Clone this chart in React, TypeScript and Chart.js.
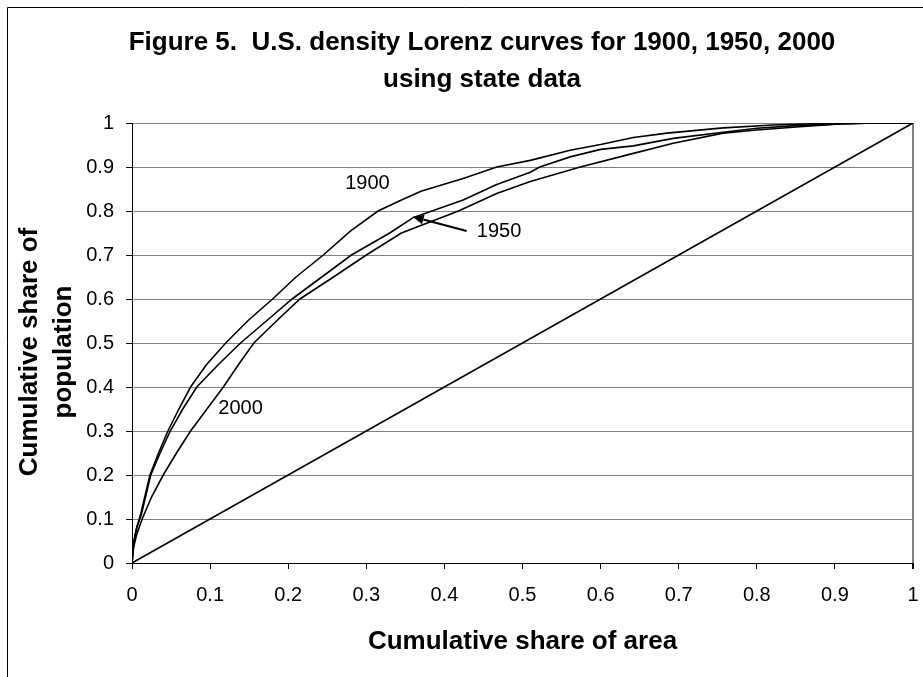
import React, { useEffect, useRef } from 'react';
import { Chart, registerables } from 'chart.js';

Chart.register(...registerables);

// ---- text ----
const titleLines = ['Figure 5.  U.S. density Lorenz curves for 1900, 1950, 2000', 'using state data'];
const xAxisTitle = 'Cumulative share of area';
const yAxisTitle = ['Cumulative share of', 'population'];
const xTickLabels = ['0', '0.1', '0.2', '0.3', '0.4', '0.5', '0.6', '0.7', '0.8', '0.9', '1'];
const yTickLabels = ['0', '0.1', '0.2', '0.3', '0.4', '0.5', '0.6', '0.7', '0.8', '0.9', '1'];

// ---- data: cumulative share of area (x) vs cumulative share of population (y) ----
const area1900 = [0, 0.002, 0.006, 0.011, 0.017, 0.023, 0.034, 0.046, 0.06, 0.075, 0.095, 0.12, 0.148, 0.18, 0.21, 0.245, 0.28, 0.315, 0.345, 0.37, 0.424, 0.467, 0.51, 0.561, 0.6, 0.642, 0.685, 0.757, 0.821, 0.885, 0.95, 1];
const pop1900 = [0, 0.045, 0.08, 0.11, 0.155, 0.2, 0.25, 0.3, 0.35, 0.4, 0.45, 0.5, 0.55, 0.6, 0.65, 0.7, 0.755, 0.8, 0.825, 0.845, 0.874, 0.9, 0.915, 0.938, 0.951, 0.967, 0.977, 0.989, 0.9955, 0.999, 1, 1];

const area1950 = [0, 0.002, 0.006, 0.012, 0.018, 0.024, 0.036, 0.049, 0.065, 0.083, 0.11, 0.139, 0.172, 0.205, 0.243, 0.281, 0.33, 0.36, 0.384, 0.424, 0.467, 0.51, 0.522, 0.561, 0.6, 0.642, 0.693, 0.757, 0.8, 0.851, 0.906, 0.95, 1];
const pop1950 = [0, 0.045, 0.08, 0.11, 0.155, 0.2, 0.25, 0.3, 0.35, 0.4, 0.45, 0.5, 0.55, 0.6, 0.65, 0.7, 0.75, 0.785, 0.8, 0.825, 0.86, 0.888, 0.9, 0.923, 0.94, 0.948, 0.965, 0.979, 0.988, 0.994, 0.998, 1, 1];

const area2000 = [0, 0.002, 0.006, 0.013, 0.025, 0.04, 0.057, 0.075, 0.096, 0.117, 0.136, 0.156, 0.185, 0.215, 0.258, 0.3, 0.345, 0.418, 0.467, 0.51, 0.574, 0.642, 0.693, 0.757, 0.8, 0.855, 0.906, 0.95, 1];
const pop2000 = [0, 0.035, 0.065, 0.1, 0.15, 0.2, 0.25, 0.3, 0.35, 0.4, 0.45, 0.5, 0.55, 0.6, 0.65, 0.7, 0.75, 0.8, 0.84, 0.867, 0.9, 0.931, 0.954, 0.977, 0.984, 0.9916, 0.998, 1, 1];

const equalityArea = [0, 1];
const equalityPop = [0, 1];

// ---- annotations (data coordinates) ----
const curveLabels = ['1900', '1950', '2000'];
const curveLabelArea = [0.3015, 0.47, 0.139];
const curveLabelPop = [0.8625, 0.753, 0.352];
const arrowArea = [0.4285, 0.3594];
const arrowPop = [0.7545, 0.787];

const FONT = 'Arial, "Liberation Sans", sans-serif';

const framePlugin = {
  id: 'frame',
  beforeDraw(chart: any) {
    const ctx = chart.ctx;
    ctx.save();
    ctx.fillStyle = '#fff';
    ctx.fillRect(0, 0, chart.width, chart.height);
    ctx.strokeStyle = '#000';
    ctx.lineWidth = 1;
    ctx.beginPath();
    ctx.moveTo(7.5, chart.height + 2);
    ctx.lineTo(7.5, 7.5);
    ctx.lineTo(chart.width + 2, 7.5);
    ctx.stroke();
    ctx.restore();
  },
};

const textPlugin = {
  id: 'texts',
  afterDraw(chart: any) {
    const ctx = chart.ctx;
    const xs = chart.scales.x;
    const ys = chart.scales.y;
    ctx.save();
    ctx.fillStyle = '#000';
    ctx.textAlign = 'center';
    ctx.textBaseline = 'middle';

    // chart title
    ctx.font = `bold 26px ${FONT}`;
    titleLines.forEach((t, i) => ctx.fillText(t, 482, 43 + i * 37));

    // y axis title (rotated, two lines)
    ctx.save();
    ctx.translate(30, 352);
    ctx.rotate(-Math.PI / 2);
    yAxisTitle.forEach((t, i) => ctx.fillText(t, 0, i * 34));
    ctx.restore();

    // curve labels
    ctx.font = `20px ${FONT}`;
    curveLabels.forEach((t, i) => {
      ctx.fillText(t, xs.getPixelForValue(curveLabelArea[i]), ys.getPixelForValue(curveLabelPop[i]));
    });

    // arrow to the 1950 curve
    const x0 = xs.getPixelForValue(arrowArea[0]);
    const y0 = ys.getPixelForValue(arrowPop[0]);
    const x1 = xs.getPixelForValue(arrowArea[1]);
    const y1 = ys.getPixelForValue(arrowPop[1]);
    const ang = Math.atan2(y1 - y0, x1 - x0);
    const hl = 11;
    const hw = 5;
    const bx = x1 - hl * Math.cos(ang);
    const by = y1 - hl * Math.sin(ang);
    ctx.strokeStyle = '#000';
    ctx.lineWidth = 2;
    ctx.beginPath();
    ctx.moveTo(x0, y0);
    ctx.lineTo(bx, by);
    ctx.stroke();
    ctx.beginPath();
    ctx.moveTo(x1, y1);
    ctx.lineTo(bx + hw * Math.sin(ang), by - hw * Math.cos(ang));
    ctx.lineTo(bx - hw * Math.sin(ang), by + hw * Math.cos(ang));
    ctx.closePath();
    ctx.fill();
    ctx.restore();
  },
};

function toPoints(xs: number[], ys: number[]) {
  return xs.map((x, i) => ({ x, y: ys[i] }));
}

function lineSet(label: string, xs: number[], ys: number[]) {
  return {
    label,
    data: toPoints(xs, ys),
    showLine: true,
    borderColor: '#000',
    backgroundColor: '#000',
    borderWidth: 1.6,
    pointRadius: 0,
    pointHoverRadius: 0,
    fill: false,
    tension: 0,
  };
}

export default function App() {
  const ref = useRef<HTMLCanvasElement>(null);

  useEffect(() => {
    const canvas = ref.current;
    if (!canvas) return;
    const chart = new Chart(canvas, {
      type: 'scatter',
      data: {
        datasets: [
          lineSet('1900', area1900, pop1900),
          lineSet('1950', area1950, pop1950),
          lineSet('2000', area2000, pop2000),
          lineSet('Equality', equalityArea, equalityPop),
        ],
      },
      options: {
        responsive: false,
        animation: false,
        events: [],
        layout: { padding: { left: 0, top: 123, right: 0, bottom: 0 } },
        plugins: {
          legend: { display: false },
          tooltip: { enabled: false },
          title: { display: false },
        },
        scales: {
          x: {
            type: 'linear',
            min: 0,
            max: 1,
            afterFit: (s: any) => {
              s.height = 114;
              s.paddingRight = 10;
              s.paddingLeft = 0;
            },
            ticks: {
              stepSize: 0.1,
              autoSkip: false,
              maxRotation: 0,
              color: '#000',
              padding: 14,
              font: { family: FONT, size: 20 },
              callback: (_v: any, i: number) => xTickLabels[i],
            },
            grid: {
              color: (c: any) => (c.index === 10 ? '#808080' : 'rgba(0,0,0,0)'),
              lineWidth: (c: any) => (c.index === 10 ? 2 : 1),
              tickColor: '#000',
              tickLength: 6,
            },
            border: { color: '#000', width: 1 },
            title: {
              display: true,
              text: xAxisTitle,
              color: '#000',
              font: { family: FONT, size: 26, weight: 'bold', lineHeight: 1.2 },
              padding: { top: 0, bottom: 19.4 },
            },
          },
          y: {
            type: 'linear',
            min: 0,
            max: 1,
            afterFit: (s: any) => {
              s.width = 132;
            },
            ticks: {
              stepSize: 0.1,
              autoSkip: false,
              color: '#000',
              padding: 12,
              font: { family: FONT, size: 20 },
              callback: (_v: any, i: number) => yTickLabels[i],
            },
            grid: {
              color: (c: any) => (c.index === 0 ? 'rgba(0,0,0,0)' : '#808080'),
              lineWidth: 1,
              tickColor: '#000',
              tickLength: 6,
            },
            border: { color: '#000', width: 1 },
            title: { display: false },
          },
        },
      },
      plugins: [framePlugin, textPlugin],
    } as any);
    return () => chart.destroy();
  }, []);

  return (
    <div
      style={{
        position: 'absolute',
        left: 0,
        top: 0,
        width: 923,
        height: 677,
        overflow: 'hidden',
        background: '#fff',
      }}
    >
      <canvas ref={ref} width={923} height={677} style={{ display: 'block' }} />
    </div>
  );
}
